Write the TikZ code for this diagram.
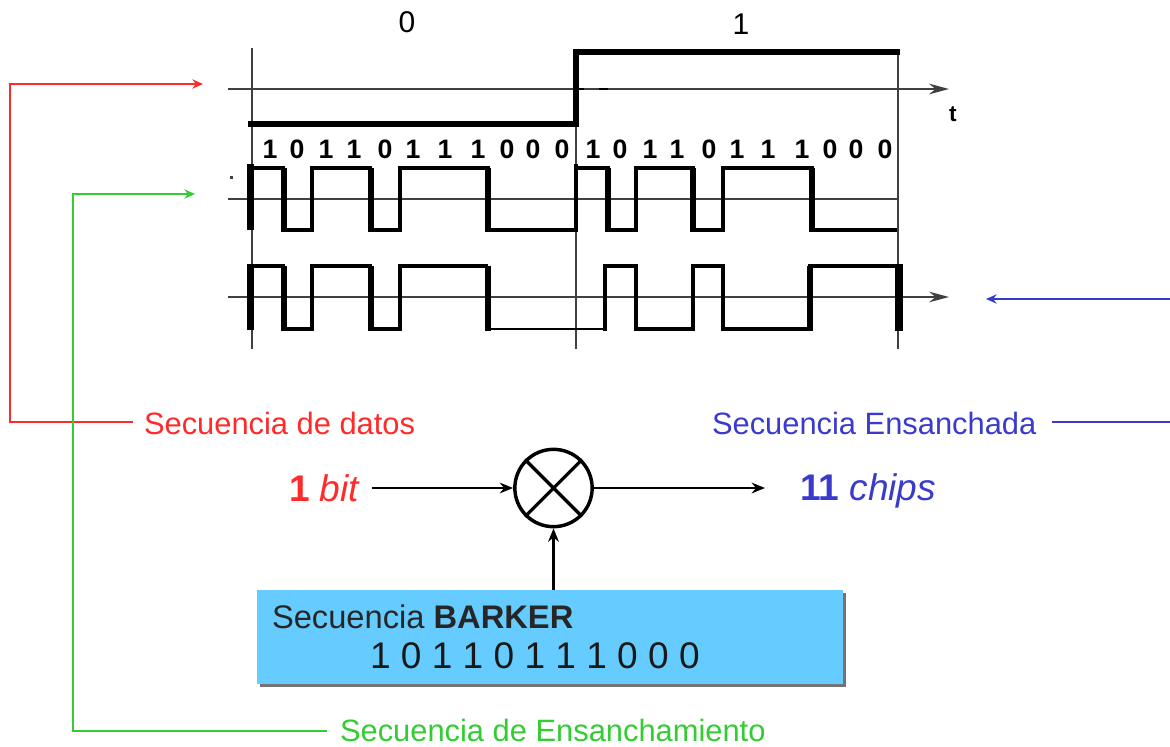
\documentclass[tikz,border=0pt]{standalone}
\usepackage{fontspec}
\setmainfont{Liberation Sans}
\usetikzlibrary{arrows.meta,shadows}
\definecolor{rojo}{HTML}{FF2A2A}
\definecolor{verde}{HTML}{33CC33}
\definecolor{azul}{HTML}{3A3ACC}
\definecolor{celeste}{HTML}{66CCFF}
\definecolor{ejes}{HTML}{404040}
\tikzset{
  x=0.75pt,y=-0.75pt,
  txt/.style={inner sep=0pt,outer sep=0pt,anchor=base west},
  lbl/.style={txt,font=\fontsize{23.15}{27}\selectfont},
  big/.style={txt,font=\fontsize{27.8}{32}\selectfont},
  chip/.style={inner sep=0pt,outer sep=0pt,anchor=base,font=\fontsize{20}{23}\selectfont\bfseries},
  bitv/.style={inner sep=0pt,outer sep=0pt,anchor=base,font=\fontsize{22.5}{26}\selectfont},
  rail/.style={ejes,line width=1.7pt},
  axis/.style={ejes,line width=1.7pt,-{Stealth[length=15pt,width=8pt,inset=5pt]}},
  sig/.style={black,line width=2.8pt,line join=miter},
  sigthin/.style={black,line width=1.9pt},
  edge1/.style={black,line width=5.2pt},
  edge2/.style={black,line width=3.6pt},
  lead/.style={line width=1pt,-{Stealth[length=8pt,width=7pt]}},
  flow/.style={black,line width=1.7pt,-{Stealth[length=10pt,width=8pt]}},
}
\begin{document}
\begin{tikzpicture}
\useasboundingbox (0,0) rectangle (1170,746);
% guide lines
\coordinate (tA) at (252,48); \coordinate (bA) at (252,349);
\coordinate (tB) at (576,52); \coordinate (bB) at (576,349);
\coordinate (tC) at (898,52); \coordinate (bC) at (898,349);
\draw[rail] (tA)--(bA);
\draw[rail] (tB)--(bB);
\draw[rail] (tC)--(bC);
\coordinate (a1s) at (228,89); \coordinate (a1e) at (949,89);
\coordinate (a2s) at (228,199); \coordinate (a2e) at (898,199);
\coordinate (a3s) at (228,297); \coordinate (a3e) at (949,297);
\draw[axis] (a1s)--(a1e);
\draw[rail,line width=1.1pt] (a2s)--(a2e);
\draw[rail,line width=1.2pt,-{Stealth[length=15pt,width=8pt,inset=5pt]}] (a3s)--(a3e);
\draw[black,line width=2pt] (599,89)--(608,89) (578,89)--(584,89);
% data signal
\draw[black,line width=4.6pt,line join=miter] (248,124)--(576,124)--(576,52)--(900,52);
% spreading sequence
\draw[sig] (252,168)--(283,168)--(283,230)--(312,230)--(312,168)--(370,168)--(370,230)--(400,230)--(400,168)--(488,168)--(488,230)--(576,230)--(576,168)--(608,168)--(608,230)--(636,230)--(636,168)--(693,168)--(693,230)--(723,230)--(723,168)--(812,168)--(812,230)--(897,230);
\draw[edge1] (250.5,164)--(250.5,230);
\draw[edge1] (284,168)--(284,232);
\draw[edge1] (371,168)--(371,232);
\draw[edge1] (488,168)--(488,232);
\draw[edge1] (608,168)--(608,232);
\draw[edge1] (693,168)--(693,232);
\draw[edge1] (812,168)--(812,232);
\draw[edge2] (576,164)--(576,230);
% spread sequence
\draw[sig] (252,266)--(283,266)--(283,329)--(312,329)--(312,266)--(370,266)--(370,329)--(400,329)--(400,266)--(488,266);
\draw[sig] (488,266)--(488,329);
\draw[sigthin] (488,329)--(605,329);
\draw[sig] (605,329)--(605,266)--(636,266)--(636,329)--(693,329)--(693,266)--(723,266)--(723,329)--(810,329)--(810,266)--(897,266);
\draw[edge1] (250.5,264)--(250.5,330);
\draw[edge1] (284,266)--(284,331);
\draw[edge1] (371,266)--(371,331);
\draw[edge1] (488,266)--(488,331);
\draw[edge2] (605,266)--(605,331);
\draw[edge2] (636,266)--(636,331);
\draw[edge2] (693,266)--(693,331);
\draw[edge2] (723,266)--(723,331);
\draw[edge1] (810,266)--(810,331);
\draw[edge1,line width=6pt] (899,264)--(899,331);
\fill[ejes] (229.5,176) rectangle (232.5,178.5);
% bit values
\node[bitv] (b0) at (407,32) {0};
\node[bitv] (b1) at (741,34) {1};
\node[txt,font=\fontsize{17}{20}\selectfont\bfseries] (tlabel) at (949,121) {t};
% chip labels
\foreach \xx/\vv [count=\ii] in {270/1,297/0,326/1,354/1,385/0,413/1,445/1,478/1,507/0,533/0,562/0,593/1,620/0,650/1,677/1,709/0,737/1,768/1,802/1,830/0,856/0,885/0}
  \node[chip] (c\ii) at (\xx,158) {\vv};
% labels
\node[lbl,text=rojo] (datos) at (144,434) {Secuencia de datos};
\node[lbl,text=azul] (ens) at (712,434) {Secuencia Ensanchada};
\node[lbl,text=verde] (sec) at (340,741) {Secuencia de Ensanchamiento};
% coloured leaders
\coordinate (r1) at (10,422); \coordinate (r2) at (10,84); \coordinate (r3) at (203,84);
\coordinate (g1) at (73,731); \coordinate (g2) at (73,194); \coordinate (g3) at (195,194);
\coordinate (u1) at (1172,422); \coordinate (u2) at (1172,299); \coordinate (u3) at (986,299);
\coordinate (rs) at (133,422); \coordinate (gs) at (327,731); \coordinate (us) at (1052,422);
\draw[lead,rojo] (rs)--(r1)--(r2)--(r3);
\draw[lead,verde] (gs)--(g1)--(g2)--(g3);
\draw[lead,azul] (us)--(u1)--(u2)--(u3);
% multiplier
\node[circle,draw=black,line width=2.6pt,minimum size=58pt,inner sep=0pt] (mix) at (553.5,488) {};
\draw[black,line width=2.4pt] (mix.north west)--(mix.south east) (mix.north east)--(mix.south west);
\node[big] (ibit) at (289,501) {\textcolor{rojo}{\bfseries 1 \normalfont\itshape bit}};
\node[big] (ochip) at (800,500) {\textcolor{azul}{\bfseries 11 \normalfont\itshape chips}};
\draw[flow] (ibit.east|-mix.west) ++(13,0) coordinate (inS) -- (mix.west);
\draw[flow] (mix.east) -- (765,488) coordinate (outE);
% Barker box
\node[fill=celeste,draw=none,minimum width=439.5pt,minimum height=70.5pt,inner sep=0pt,
      drop shadow={shadow xshift=2.2pt,shadow yshift=-2.2pt,fill=black!55,opacity=1}] (box) at (550,637) {};
\node[txt,font=\fontsize{24.5}{29}\selectfont,text=black!85] (bt) at (272,628) {Secuencia \textbf{BARKER}};
\node[txt,font=\fontsize{27.8}{32}\selectfont,text=black!90] (bn) at (370,668) {1 0 1 1 0 1 1 1 0 0 0};
\draw[flow] (mix.south|-box.north) -- (mix.south);
\end{tikzpicture}
\end{document}
